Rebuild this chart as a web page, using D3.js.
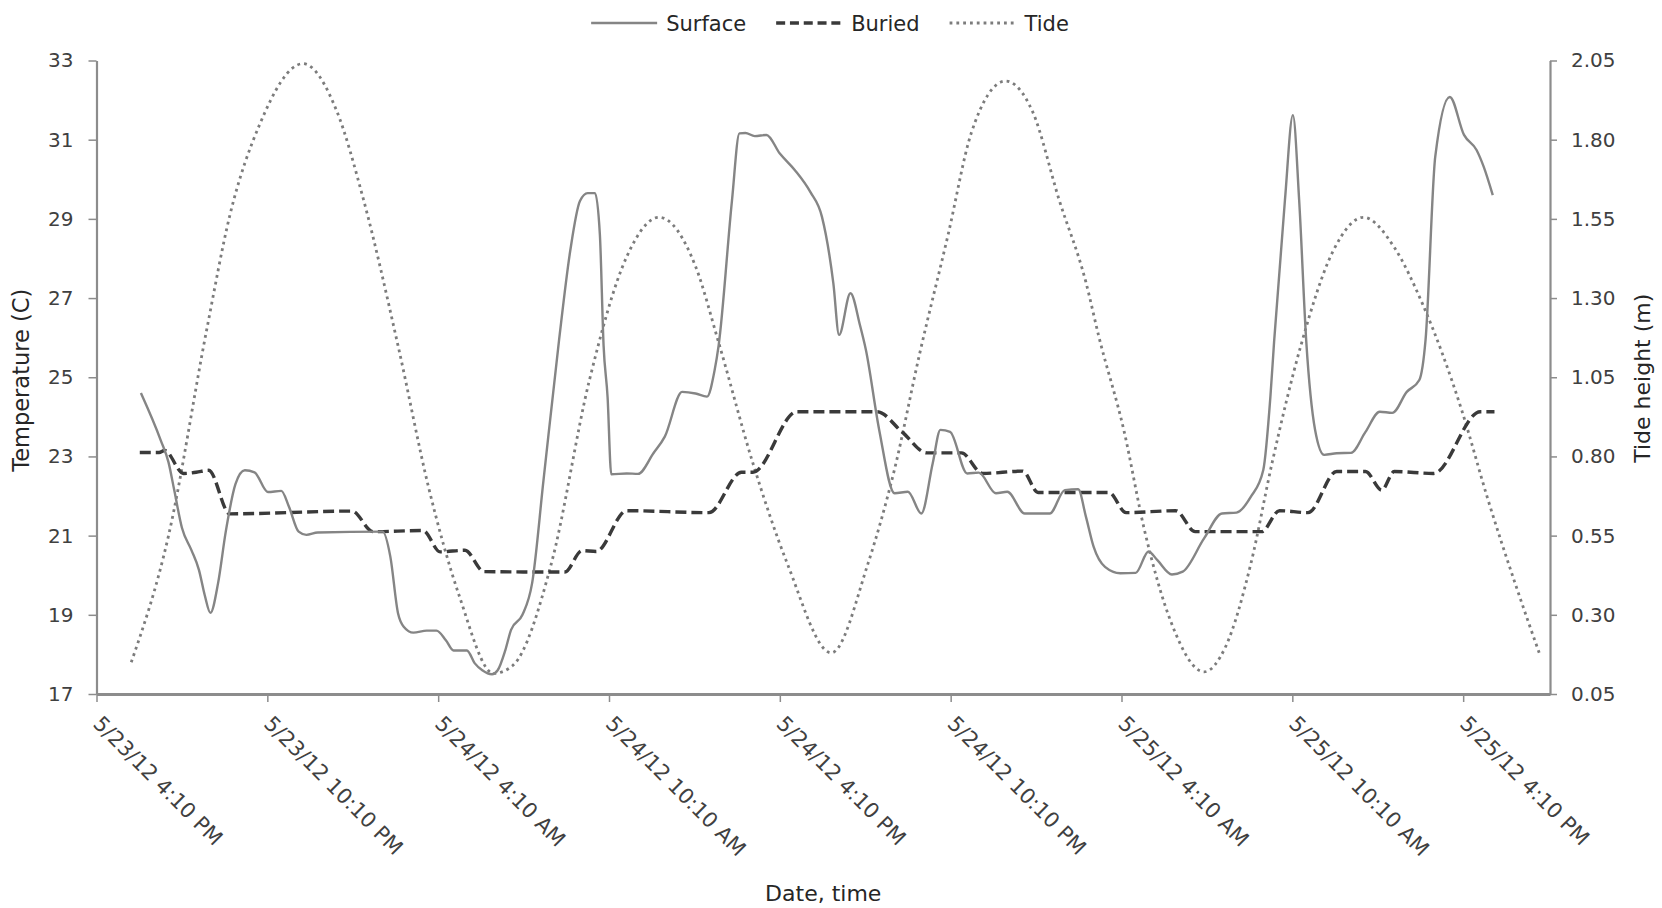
<!DOCTYPE html>
<html>
<head>
<meta charset="utf-8">
<script src="https://cdn.jsdelivr.net/npm/d3@7"></script>
<style>
  body { margin: 0; background: #fff; }
  svg { display: block; }
  text { font-family: "DejaVu Sans", sans-serif; }
</style>
</head>
<body>
<svg id="chart" width="1662" height="908"></svg>
<script>
// Category tick labels on the time axis (every 6 h)
const tickLabels = [
  "5/23/12 4:10 PM", "5/23/12 10:10 PM", "5/24/12 4:10 AM", "5/24/12 10:10 AM",
  "5/24/12 4:10 PM", "5/24/12 10:10 PM", "5/25/12 4:10 AM", "5/25/12 10:10 AM",
  "5/25/12 4:10 PM"
];
const tempTicks = [17, 19, 21, 23, 25, 27, 29, 31, 33];
const tideTicks = [0.05, 0.30, 0.55, 0.80, 1.05, 1.30, 1.55, 1.80, 2.05];
const axisSpanHours = 51.05;   // length of the time axis after 5/23/12 4:10 PM

// Surface logger: hours after 5/23/12 4:10 PM, temperature (C)
const surfaceHours = [1.56, 2.26, 2.53, 2.73, 3.0, 3.33, 3.6, 3.8, 4.0, 4.27,
  4.54, 4.88, 5.21, 5.55, 6.02, 6.49, 6.76, 7.1, 7.37, 7.77,
  10.05, 10.32, 10.59, 10.79, 11.13, 11.6, 11.94, 12.27, 12.54, 13.01,
  13.28, 13.55, 13.89, 14.09, 14.36, 14.56, 14.96, 15.3, 15.7, 16.24,
  16.64, 16.98, 17.25, 17.51, 17.68, 17.81, 17.95, 18.08, 18.62, 19.02,
  19.56, 19.96, 20.57, 21.04, 21.44, 21.71, 21.85, 22.32, 22.58, 22.79,
  23.12, 23.53, 24.0, 24.53, 25.07, 25.48, 25.88, 26.08, 26.48, 26.82,
  27.02, 27.49, 28.03, 28.5, 28.97, 29.37, 29.64, 29.98, 30.58, 30.99,
  31.59, 31.99, 32.6, 33.48, 34.01, 34.48, 34.75, 35.02, 35.42, 35.96,
  36.5, 36.95, 37.26, 37.77, 38.15, 38.9, 39.53, 40.04, 40.54, 40.98,
  41.23, 41.36, 41.74, 42.02, 42.24, 42.49, 42.8, 43.12, 43.56, 44.06,
  44.57, 45.07, 45.51, 46.02, 46.46, 46.68, 47.02, 47.53, 48.03, 48.47,
  48.72, 49.04];
const surfaceTemp = [24.6, 23.4, 22.85, 22.15, 21.2, 20.64, 20.13, 19.5, 19.05, 19.8,
  21.1, 22.3, 22.65, 22.6, 22.1, 22.13, 21.73, 21.1, 21.02, 21.08,
  21.1, 20.47, 19.04, 18.7, 18.55, 18.6, 18.6, 18.36, 18.1, 18.1,
  17.78, 17.6, 17.5, 17.6, 18.11, 18.62, 19.0, 19.8, 22.4, 25.9,
  28.2, 29.45, 29.65, 29.65, 28.6, 25.8, 24.5, 22.55, 22.57, 22.56,
  23.08, 23.5, 24.63, 24.59, 24.51, 25.18, 25.8, 29.47, 31.16, 31.17,
  31.09, 31.12, 30.65, 30.23, 29.68, 29.05, 27.37, 26.07, 27.12, 26.3,
  25.7, 23.67, 22.07, 22.11, 21.56, 22.83, 23.67, 23.62, 22.57, 22.59,
  22.07, 22.11, 21.56, 21.56, 22.15, 22.17, 21.48, 20.72, 20.21, 20.05,
  20.06, 20.6, 20.38, 20.02, 20.09, 20.93, 21.56, 21.58, 21.98, 22.66,
  24.51, 25.9, 29.47, 31.62, 29.47, 25.9, 23.67, 23.04, 23.08, 23.09,
  23.62, 24.13, 24.1, 24.63, 24.93, 25.95, 30.57, 32.08, 31.12, 30.74,
  30.32, 29.6];

// Buried logger
const buriedHours = [1.52, 2.2, 2.39, 3.06, 3.5, 3.94, 4.68, 8.98, 9.71, 11.47,
  12.07, 12.94, 13.61, 16.45, 17.05, 17.55, 18.62, 21.51, 22.65, 23.05,
  24.6, 27.42, 28.29, 29.17, 30.38, 31.12, 32.53, 33.07, 35.56, 36.16,
  37.9, 38.59, 40.92, 41.55, 42.55, 43.56, 44.57, 45.14, 45.58, 46.96,
  48.6, 49.1];
const buriedTemp = [23.1, 23.1, 23.15, 22.57, 22.6, 22.65, 21.55, 21.62, 21.1, 21.13,
  20.59, 20.63, 20.09, 20.08, 20.62, 20.6, 21.63, 21.58, 22.6, 22.6,
  24.13, 24.13, 23.62, 23.09, 23.09, 22.57, 22.63, 22.09, 22.09, 21.58,
  21.63, 21.1, 21.1, 21.63, 21.58, 22.62, 22.62, 22.15, 22.62, 22.57,
  24.13, 24.13];

// Tide height (m)
const tideHours = [1.22, 2.53, 3.87, 4.68, 5.74, 7.25, 8.44, 9.38, 10.59, 11.67,
  12.74, 13.95, 14.62, 15.97, 17.31, 18.62, 19.76, 21.04, 21.85, 23.05,
  24.27, 25.81, 27.09, 28.03, 28.9, 29.91, 30.72, 31.93, 32.87, 33.81,
  34.75, 35.2, 36.09, 36.8, 37.77, 38.9, 39.66, 40.54, 41.29, 42.3,
  43.44, 44.5, 45.58, 46.58, 47.97, 48.85, 49.86, 50.67];
const tideHeight = [0.15, 0.55, 1.20, 1.56, 1.85, 2.04, 1.89, 1.61, 1.15, 0.70,
  0.36, 0.115, 0.14, 0.46, 1.04, 1.43, 1.555, 1.40, 1.16, 0.78,
  0.46, 0.18, 0.46, 0.76, 1.12, 1.50, 1.82, 1.985, 1.89, 1.61,
  1.35, 1.18, 0.88, 0.57, 0.27, 0.12, 0.20, 0.46, 0.78, 1.15,
  1.45, 1.555, 1.46, 1.28, 0.94, 0.67, 0.39, 0.18];

// ---- layout ----
const W = 1662, H = 908;
const margin = { top: 60.5, right: 112, bottom: 214, left: 96.5 };
const svg = d3.select("#chart");

const parseLabel = d3.timeParse("%m/%d/%y %I:%M %p");
const tickTimes = tickLabels.map(parseLabel);
const t0 = tickTimes[0];
const HOUR = 3600 * 1000;
const atHours = h => new Date(t0.getTime() + h * HOUR);

const x = d3.scaleTime()
  .domain([t0, atHours(axisSpanHours)])
  .range([margin.left, W - margin.right]);
const yT = d3.scaleLinear().domain([17, 33]).range([H - margin.bottom, margin.top]);
const yH = d3.scaleLinear().domain([0.05, 2.05]).range([H - margin.bottom, margin.top]);

const axisColor = "#8c8c8c";
const textColor = "#404040";

// ---- axes ----
const gx = svg.append("g")
  .attr("transform", `translate(0,${H - margin.bottom})`)
  .call(d3.axisBottom(x).tickValues(tickTimes).tickFormat((d, i) => tickLabels[i])
    .tickSize(8).tickSizeOuter(0));
gx.selectAll("text")
  .attr("x", 0).attr("y", 0).attr("dy", 0)
  .attr("text-anchor", "start")
  .attr("transform", "translate(-5,31) rotate(45)")
  .attr("font-size", 21).attr("fill", textColor).attr("font-family", "DejaVu Sans");

const gl = svg.append("g")
  .attr("transform", `translate(${margin.left},0)`)
  .call(d3.axisLeft(yT).tickValues(tempTicks).tickFormat(d3.format("d"))
    .tickSize(8).tickSizeOuter(0).tickPadding(15));
gl.selectAll("text").attr("font-size", 20).attr("fill", textColor).attr("font-family", "DejaVu Sans");

const gr = svg.append("g")
  .attr("transform", `translate(${W - margin.right},0)`)
  .call(d3.axisRight(yH).tickValues(tideTicks).tickFormat(d3.format(".2f"))
    .tickSize(7).tickSizeOuter(0).tickPadding(14));
gr.selectAll("text").attr("font-size", 20).attr("fill", textColor).attr("font-family", "DejaVu Sans");

[gx, gl, gr].forEach(g => {
  g.select(".domain").attr("stroke", axisColor).attr("stroke-width", 2.2);
  g.selectAll(".tick line").attr("stroke", axisColor).attr("stroke-width", 1.5);
});
gx.select(".domain").attr("stroke-width", 2.8);

// ---- axis titles ----
svg.append("text")
  .attr("x", (margin.left + W - margin.right) / 2).attr("y", 901)
  .attr("text-anchor", "middle").attr("font-size", 22).attr("fill", "#262626")
  .text("Date, time");
svg.append("text")
  .attr("transform", `translate(29,${(margin.top + H - margin.bottom) / 2 + 3}) rotate(-90)`)
  .attr("text-anchor", "middle").attr("font-size", 22.5).attr("fill", "#262626")
  .text("Temperature (C)");
svg.append("text")
  .attr("transform", `translate(1650,${(margin.top + H - margin.bottom) / 2 + 1}) rotate(-90)`)
  .attr("text-anchor", "middle").attr("font-size", 22).attr("fill", "#262626")
  .text("Tide height (m)");

// ---- series ----
const series = [
  { name: "Surface", hours: surfaceHours, values: surfaceTemp, y: yT,
    stroke: "#858585", width: 2.4, dash: null },
  { name: "Buried", hours: buriedHours, values: buriedTemp, y: yT,
    stroke: "#3a3a3a", width: 3.4, dash: "11,5" },
  { name: "Tide", hours: tideHours, values: tideHeight, y: yH,
    stroke: "#7c7c7c", width: 2.8, dash: "2.8,4" }
];

const drawOrder = [series[2], series[1], series[0]];
drawOrder.forEach(s => {
  const pts = s.hours.map((h, i) => [atHours(h), s.values[i]]);
  const line = d3.line()
    .x(d => x(d[0])).y(d => s.y(d[1]))
    .curve(d3.curveMonotoneX);
  svg.append("path")
    .datum(pts)
    .attr("d", line)
    .attr("fill", "none")
    .attr("stroke", s.stroke)
    .attr("stroke-width", s.width)
    .attr("stroke-dasharray", s.dash)
    .attr("stroke-linejoin", "round");
});

// ---- legend ----
const legend = svg.append("g");
let cx = 0;
const sampleW = 66, gapText = 9, gapItem = 30, legendY = 23;
series.forEach((s, i) => {
  const item = legend.append("g").attr("transform", `translate(${cx},0)`);
  item.append("line")
    .attr("x1", 0).attr("x2", sampleW).attr("y1", legendY).attr("y2", legendY)
    .attr("stroke", s.stroke).attr("stroke-width", s.width)
    .attr("stroke-dasharray", s.name === "Buried" ? "9,4.8" : s.dash);
  const t = item.append("text")
    .attr("x", sampleW + gapText).attr("y", legendY + 8)
    .attr("font-size", 21).attr("fill", "#262626")
    .text(s.name);
  cx += sampleW + gapText + t.node().getComputedTextLength() + gapItem;
});
const legendW = cx - gapItem;
legend.attr("transform", `translate(${830 - legendW / 2},0)`);
</script>
</body>
</html>
